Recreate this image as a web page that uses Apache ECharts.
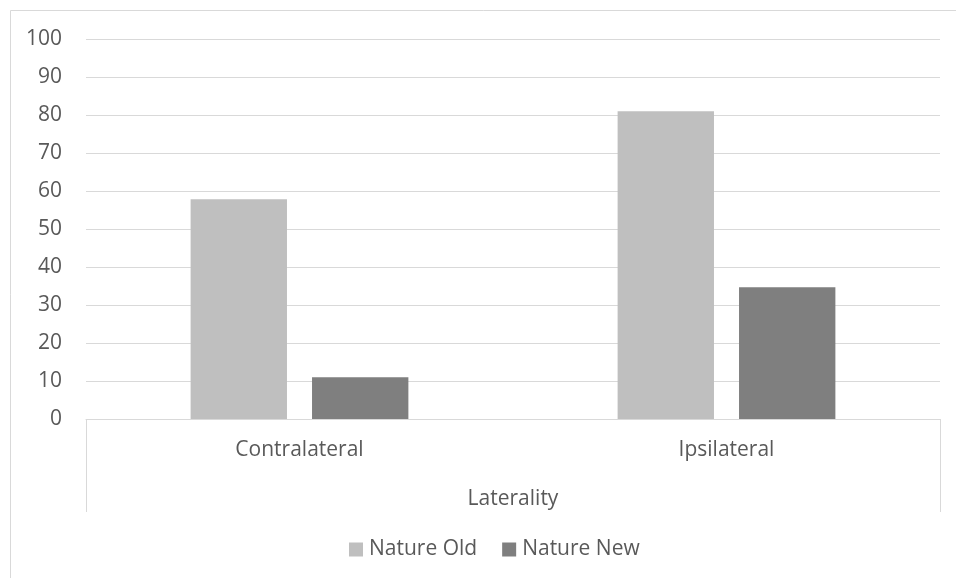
<!DOCTYPE html>
<html>
<head>
<meta charset="utf-8">
<script src="https://cdn.jsdelivr.net/npm/echarts@6/dist/echarts.min.js"></script>
<style>
html,body{margin:0;padding:0;background:#fff;}
#c{width:956px;height:578px;}
</style>
</head>
<body>
<div id="c"></div>
<script>
var categories = ['Contralateral', 'Ipsilateral'];
var natureOld = [57.8, 81.0];
var natureNew = [11.0, 34.7];
var yTicks = [0, 10, 20, 30, 40, 50, 60, 70, 80, 90, 100];
var axisTitle = 'Laterality';
var seriesNames = ['Nature Old', 'Nature New'];

var FONT = 'Open Sans';
var TXT = '#595959';
var LINE = '#d9d9d9';

var chart = echarts.init(document.getElementById('c'), null, {renderer: 'canvas'});
chart.setOption({
  backgroundColor: '#ffffff',
  animation: false,
  textStyle: {fontFamily: FONT},
  graphic: [{
    type: 'rect',
    shape: {x: 10.5, y: 10.5, width: 980, height: 620},
    style: {fill: 'none', stroke: LINE, lineWidth: 1},
    silent: true, z: -10
  }],
  grid: {left: 86, right: 16, top: 39, bottom: 159, containLabel: false},
  legend: {
    data: seriesNames,
    left: 344,
    top: 534,
    itemWidth: 14,
    itemHeight: 14,
    itemGap: 25,
    icon: 'rect',
    textStyle: {fontFamily: FONT, fontSize: 21, color: TXT, padding: [0, 0, 0, 1]}
  },
  xAxis: {
    type: 'category',
    data: categories,
    boundaryGap: true,
    name: axisTitle,
    nameLocation: 'middle',
    nameGap: 70,
    nameTextStyle: {fontFamily: FONT, fontSize: 21, color: TXT},
    axisLine: {show: true, lineStyle: {color: LINE, width: 1}},
    axisTick: {
      show: true,
      length: 93,
      interval: function (idx) { return idx === 0; },
      lineStyle: {color: LINE, width: 1}
    },
    axisLabel: {fontFamily: FONT, fontSize: 21, color: TXT, margin: 21},
    splitLine: {show: false}
  },
  yAxis: {
    type: 'value',
    min: 0,
    max: 100,
    interval: 10,
    axisLine: {show: false},
    axisTick: {show: false},
    axisLabel: {
      fontFamily: FONT, fontSize: 21, color: TXT, margin: 24,
      formatter: function (v) { return yTicks.indexOf(v) >= 0 ? String(v) : ''; }
    },
    splitLine: {show: true, lineStyle: {color: LINE, width: 1}}
  },
  series: [
    {
      name: seriesNames[0], type: 'bar', data: natureOld,
      barGap: '26%', barCategoryGap: '49%',
      itemStyle: {color: '#bfbfbf'}
    },
    {
      name: seriesNames[1], type: 'bar', data: natureNew,
      barGap: '26%', barCategoryGap: '49%',
      itemStyle: {color: '#7f7f7f'}
    }
  ]
});
</script>
</body>
</html>
